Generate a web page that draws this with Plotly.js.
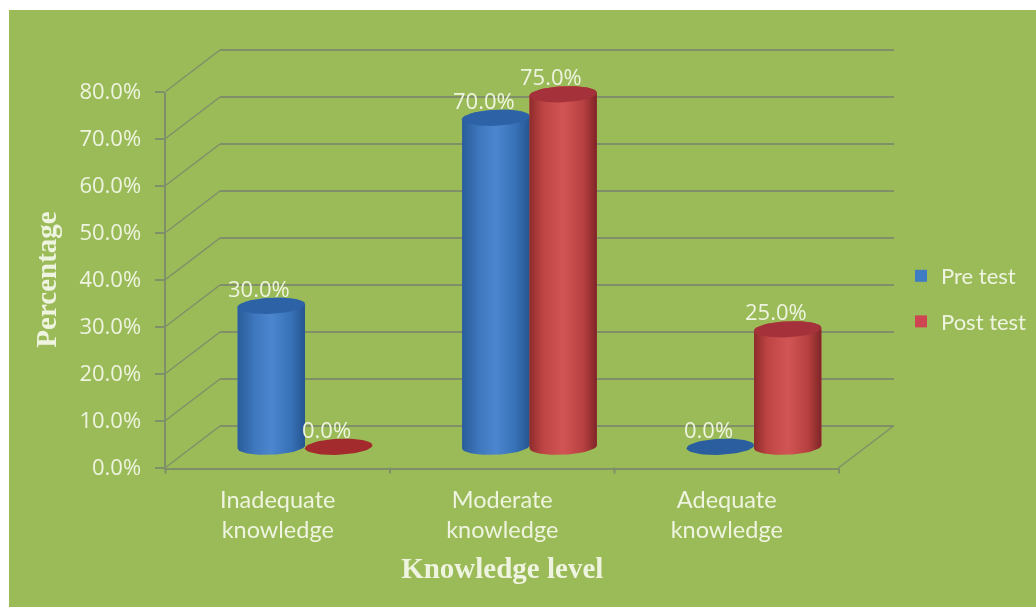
<!DOCTYPE html>
<html><head><meta charset="utf-8">
<script src="https://cdn.plot.ly/plotly-3.0.1.min.js"></script>
<style>html,body{margin:0;padding:0;background:#fff}#c{width:1036px;height:607px;filter:blur(0.45px)}</style>
</head><body><div id="c"></div>
<script>
const categories = ['Inadequate<br>knowledge', 'Moderate<br>knowledge', 'Adequate<br>knowledge'];
const preTest = [30, 70, 0];
const postTest = [0, 75, 25];
const yTicks = [0, 10, 20, 30, 40, 50, 60, 70, 80];
const yTickLabels = ['0.0%', '10.0%', '20.0%', '30.0%', '40.0%', '50.0%', '60.0%', '70.0%', '80.0%'];

const W = 1036, H = 607;
const front = {x0: 165.5, x1: 839, y0: 467.5, y1: 91.5};
const depth = {x: 54.5, y: 41.5};
const plane = f => ({x0: front.x0 + depth.x * f, x1: front.x1 + depth.x * f, y0: front.y0 - depth.y * f, y1: front.y1 - depth.y * f});
const back = plane(1), mid = plane(0.5);
const pad = 5;                 // axis units kept beyond 0..80 so edge gridlines and bases are not clipped
const pxPerUnit = (front.y0 - front.y1) / 80;
const xd = p => [p.x0 / W, p.x1 / W];
const yd = p => [1 - (p.y0 + pad * pxPerUnit) / H, 1 - (p.y1 - pad * pxPerUnit) / H];
const yRange = [-pad, 80 + pad];
const TEXT = '#EEF4DF', LINE = '#7F8F68';
const barW = 0.3, ryPx = 8, tiltPx = 1.5;
const ry = ryPx / pxPerUnit, tilt = tiltPx / pxPerUnit;

const colors = {
  pre: {main: '#3F7CC4', top: '#2D62A6', zero: '#2A5E9E',
    body: [[0, '#2A5C9A'], [0.25, '#3E77BD'], [0.5, '#4C86CE'], [0.8, '#3670B6'], [1, '#265590']]},
  post: {main: '#CE4450', top: '#A5323A', zero: '#A32B2E',
    body: [[0, '#8E2B2B'], [0.2, '#BE4444'], [0.5, '#D25555'], [0.8, '#B84040'], [1, '#7F2526']]}
};

function ellipse(cx, cy) {
  const xs = [], ys = [];
  for (let i = 0; i <= 48; i++) {
    const t = i / 48 * 2 * Math.PI;
    xs.push(cx + barW / 2 * Math.cos(t));
    ys.push(cy + ry * Math.sin(t) + tilt * Math.cos(t));
  }
  return {x: xs, y: ys};
}
function body(cx, v) {
  const xs = [], ys = [];
  for (let i = 0; i <= 24; i++) {
    const t = Math.PI * i / 24;
    xs.push(cx + barW / 2 * Math.cos(t));
    ys.push(v + ry * Math.sin(t) + tilt * Math.cos(t));
  }
  for (let i = 0; i <= 24; i++) {
    const t = Math.PI + Math.PI * i / 24;
    xs.push(cx + barW / 2 * Math.cos(t));
    ys.push(ry * Math.sin(t) + tilt * Math.cos(t));
  }
  xs.push(xs[0]); ys.push(ys[0]);
  return {x: xs, y: ys};
}

const idx = categories.map((_, i) => i);
const traces = [];
traces.push({type: 'scatter', x: [0], y: [0], xaxis: 'x', yaxis: 'y', mode: 'none', showlegend: false, hoverinfo: 'skip'});
traces.push({type: 'bar', name: 'Pre test', x: idx, y: preTest, xaxis: 'x2', yaxis: 'y2', marker: {color: colors.pre.main}, legendgroup: 'a', cliponaxis: false});
traces.push({type: 'bar', name: 'Post test', x: idx, y: postTest, xaxis: 'x2', yaxis: 'y2', marker: {color: colors.post.main}, legendgroup: 'b', cliponaxis: false});

function addCylinders(vals, offset, c) {
  vals.forEach((v, i) => {
    const cx = i + offset;
    const base = {type: 'scatter', mode: 'lines', line: {width: 0}, fill: 'toself', xaxis: 'x2', yaxis: 'y2', showlegend: false, hoverinfo: 'skip', cliponaxis: false};
    if (v > 0) {
      traces.push(Object.assign({}, base, body(cx, v), {fillcolor: c.main, fillgradient: {type: 'horizontal', colorscale: c.body}}));
      traces.push(Object.assign({}, base, ellipse(cx, v), {fillcolor: c.top}));
    } else {
      traces.push(Object.assign({}, base, ellipse(cx, 0), {fillcolor: c.zero}));
    }
  });
}
addCylinders(preTest, -barW / 2, colors.pre);
addCylinders(postTest, barW / 2, colors.post);
traces.push({type: 'scatter', x: idx, y: idx.map(() => 0), xaxis: 'x3', yaxis: 'y3', mode: 'none', showlegend: false, hoverinfo: 'skip'});

const shapes = [{type: 'rect', xref: 'paper', yref: 'paper', x0: 9 / W, x1: 1, y0: 0, y1: 1 - 10 / H, fillcolor: '#9BBB59', line: {width: 0}, layer: 'below'}];
const diag = (xa, ya, xb, yb, w) => ({type: 'line', xref: 'paper', yref: 'paper', x0: xa / W, x1: xb / W, y0: 1 - ya / H, y1: 1 - yb / H, line: {color: LINE, width: w}, layer: 'below'});
const yOn = (p, v) => p.y0 + (p.y1 - p.y0) * v / 80;
yTicks.forEach(v => shapes.push(diag(front.x0, yOn(front, v), back.x0, yOn(back, v), 1.5)));
shapes.push(diag(front.x1, front.y0, back.x1, back.y0, 1.5));
[0, 1, 2, 3].forEach(k => {
  const x = front.x0 + (front.x1 - front.x0) * k / 3;
  shapes.push(diag(x, front.y0, x, front.y0 + 6, 2));
});

const annotations = [];
const lab = (vals, offset) => vals.forEach((v, i) => annotations.push({
  xref: 'x2', yref: 'y2', x: i + offset, y: v, text: v.toFixed(1) + '%', showarrow: false,
  xshift: -12, yshift: 18, font: {family: 'Open Sans', size: 22, color: TEXT}
}));
lab(preTest, -barW / 2);
lab(postTest, barW / 2);

const titleFont = {family: 'Liberation Serif', size: 29, weight: 'bold', color: TEXT};
const layout = {
  width: W, height: H, margin: {l: 0, r: 0, t: 0, b: 0}, paper_bgcolor: '#fff', plot_bgcolor: 'rgba(0,0,0,0)',
  barmode: 'group', bargap: 0.4, bargroupgap: 0, shapes, annotations,
  showlegend: true,
  legend: {x: 901 / W, y: 1 - 255 / H, xanchor: 'left', yanchor: 'top', bgcolor: 'rgba(0,0,0,0)', tracegroupgap: 14, font: {family: 'Lato', size: 22, color: TEXT}},
  xaxis: {domain: xd(back), range: [-0.5, 2.5], visible: false, anchor: 'y'},
  yaxis: {domain: yd(back), range: yRange, anchor: 'x', tickvals: yTicks, showticklabels: false, ticks: '', showgrid: true, gridcolor: LINE, gridwidth: 2, zeroline: false, showline: false},
  xaxis2: {domain: xd(mid), range: [-0.5, 2.5], visible: false, anchor: 'y2'},
  yaxis2: {domain: yd(mid), range: yRange, visible: false, anchor: 'x2'},
  xaxis3: {domain: xd(front), range: [-0.5, 2.5], anchor: 'y3', tickmode: 'array', tickvals: idx, ticktext: categories, ticks: '', showline: true, linecolor: LINE, linewidth: 2, showgrid: false, zeroline: false, ticklabelstandoff: 10,
    tickfont: {family: 'Lato', size: 23.5, color: TEXT},
    title: {text: 'Knowledge level', standoff: 15, font: titleFont}},
  yaxis3: {domain: [1 - front.y0 / H, 1 - front.y1 / H], range: [0, 80], anchor: 'x3', tickmode: 'array', tickvals: yTicks, ticktext: yTickLabels, ticks: 'outside', ticklen: 9, tickwidth: 2, tickcolor: LINE, showline: true, linecolor: LINE, linewidth: 2, showgrid: false, zeroline: false, ticklabelstandoff: 9,
    tickfont: {family: 'Open Sans', size: 22, color: TEXT},
    title: {text: 'Percentage', standoff: 14, font: titleFont}}
};
Plotly.newPlot('c', traces, layout, {displayModeBar: false, staticPlot: true});
</script></body></html>
